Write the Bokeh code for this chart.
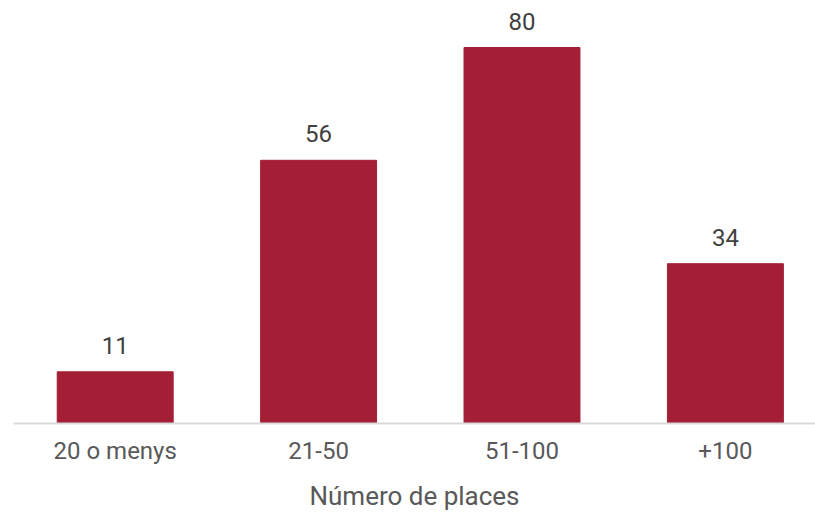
from bokeh.plotting import figure
from bokeh.models import ColumnDataSource, Range1d, FixedTicker, LabelSet
from bokeh.core.properties import value
from bokeh.embed import file_html
from bokeh.resources import INLINE

categories = ["20 o menys", "21-50", "51-100", "+100"]
values = [11, 56, 80, 34]
xlabel = "Número de places"

pos = list(range(len(categories)))
src = ColumnDataSource(dict(x=pos, top=values, lab=[str(v) for v in values]))

p = figure(width=815, height=514, output_backend="svg", toolbar_location=None,
           x_range=Range1d(-0.5, 3.443), y_range=Range1d(0, 90),
           min_border_left=13, min_border_right=0, min_border_top=0, min_border_bottom=91)
p.outline_line_color = None
p.grid.visible = False
p.yaxis.visible = False

p.vbar(x="x", top="top", width=0.57, source=src, color="#A41F35")

labels = LabelSet(x="x", y="top", text="lab", source=src, text_align="center",
                  text_baseline="bottom", y_offset=18, text_font=value("Roboto"),
                  text_font_size="24px", text_color="#404040")
p.add_layout(labels)

ax = p.xaxis[0]
ax.ticker = FixedTicker(ticks=pos)
ax.major_label_overrides = {i: c for i, c in enumerate(categories)}
ax.major_tick_line_color = None
ax.minor_tick_line_color = None
ax.axis_line_color = "#D9D9D9"
ax.axis_line_width = 2
ax.major_label_text_font = "Roboto"
ax.major_label_text_font_size = "24px"
ax.major_label_text_color = "#595959"
ax.major_label_standoff = 7
ax.axis_label = xlabel
ax.axis_label_text_font = "Roboto"
ax.axis_label_text_font_size = "26px"
ax.axis_label_text_font_style = "normal"
ax.axis_label_text_color = "#595959"
ax.axis_label_standoff = 13

open("out.html", "w").write(file_html(p, INLINE))
